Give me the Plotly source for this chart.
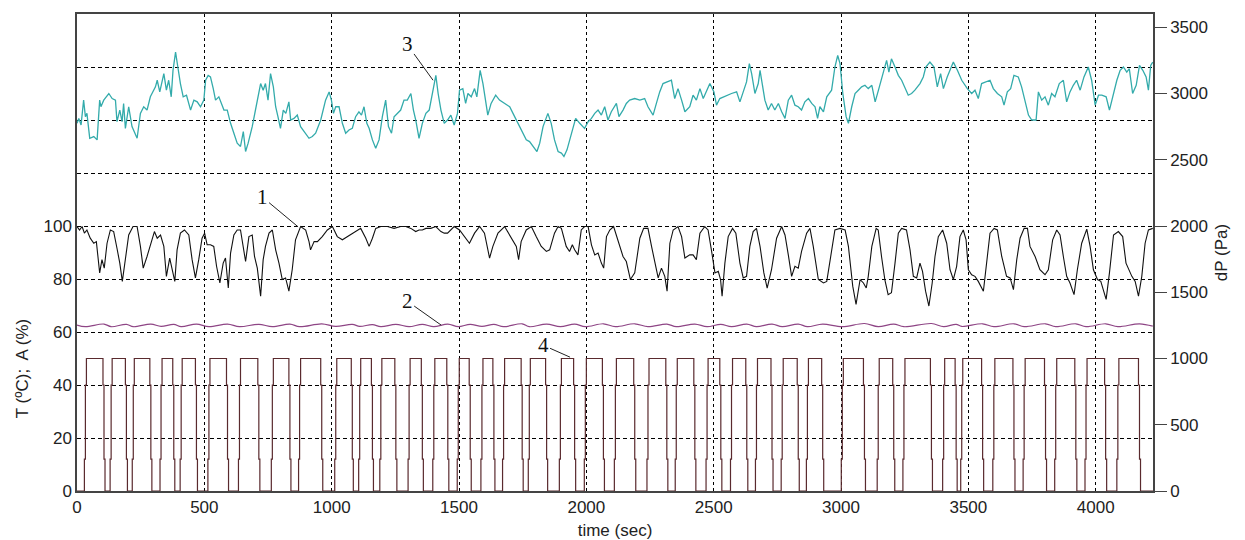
import plotly.graph_objects as go

# ---- series 3 : dP (Pa), right axis ----
dp_t = [0, 7, 16, 26, 33, 39, 50, 66, 79, 89, 94, 105, 125, 138, 151, 157, 168, 177, 183, 190,
        203, 216, 236, 249, 262, 275, 288, 308, 315, 325, 341, 351, 360, 370, 377, 387, 396, 406,
        417, 430, 446, 459, 472, 485, 498, 505, 515, 524, 535, 544, 557, 567, 577, 590, 603, 616,
        629, 642, 653, 662, 672, 688, 701, 714, 721, 731, 740, 750, 760, 771, 780, 789, 799, 810,
        820, 832, 839, 852, 865, 878, 891, 911, 924, 937, 957, 976, 990, 999, 1007, 1016, 1029,
        1042, 1055, 1068, 1081, 1094, 1107, 1117, 1127, 1138, 1147, 1160, 1173, 1186, 1199, 1212,
        1223, 1235, 1245, 1258, 1271, 1284, 1297, 1311, 1321, 1330, 1343, 1356, 1370, 1383, 1396,
        1409, 1418, 1429, 1442, 1455, 1468, 1481, 1494,
        1502, 1515, 1526, 1535, 1548, 1561, 1570, 1583, 1594, 1604, 1613, 1626, 1644, 1659, 1679,
        1699, 1712, 1725, 1738, 1751, 1764, 1777, 1790, 1806, 1817, 1830, 1849, 1862, 1875, 1889,
        1902, 1912, 1924, 1941, 1958, 1974, 1993, 2007, 2020, 2033, 2046, 2059, 2072, 2085, 2098,
        2118, 2128, 2144, 2157, 2170, 2190, 2210, 2229, 2242, 2262, 2275, 2288, 2301, 2321, 2334,
        2347, 2360, 2374, 2387, 2406, 2419, 2432, 2446, 2459, 2472, 2485, 2501, 2511, 2524, 2550,
        2570, 2590, 2603, 2616, 2629, 2640, 2649, 2662, 2675, 2682, 2692, 2701, 2714, 2727, 2740,
        2754, 2767, 2780, 2793, 2806, 2819, 2832, 2845, 2858, 2872, 2885, 2898, 2908, 2917, 2931,
        2944, 2963, 2976, 2987, 2996, 3007, 3020, 3029, 3042, 3055, 3068, 3081, 3094, 3107, 3121,
        3134, 3147,
        3166, 3179, 3188, 3198, 3212, 3225, 3238, 3251, 3264, 3277, 3290, 3310, 3323, 3333, 3349,
        3365, 3378, 3391, 3402, 3417, 3428, 3441, 3457, 3474, 3496, 3513, 3526, 3539, 3552, 3572,
        3585, 3598, 3614, 3631, 3640, 3653, 3666, 3679, 3696, 3709, 3722, 3736, 3749, 3766, 3775,
        3788, 3801, 3814, 3827, 3840, 3857, 3873, 3886, 3899, 3912, 3925, 3939, 3954, 3971, 3984,
        3998, 4011, 4024, 4041, 4054, 4070, 4083, 4096, 4109, 4122, 4132, 4145, 4159, 4172, 4185,
        4198, 4207, 4216, 4224]
dp_v = [2775, 2812, 2762, 2950, 2825, 2850, 2662, 2675, 2650, 2950, 2900, 2950, 3000, 2962, 2950,
        2787, 2875, 2787, 2925, 2737, 2900, 2750, 2662, 2850, 2900, 2875, 2975, 3050, 3100, 3012,
        3150, 3025, 3100, 2975, 3175, 3312, 3200, 3075, 2975, 2987, 2875, 2950, 2937, 2900, 2950,
        3100, 3137, 3125, 3037, 2950, 2975, 2925, 2875, 2875, 2775, 2700, 2625, 2600, 2712, 2562,
        2625, 2750, 2875, 3000, 3075, 3025, 3075, 2950, 3150, 3050, 2900, 2825, 2737, 2875, 2850,
        2937, 2800, 2812, 2837, 2750, 2712, 2662, 2675, 2700, 2800, 2950, 3012, 2950, 2850, 2900,
        2900, 2775, 2700, 2725, 2737, 2825, 2862, 2837, 2900, 2775, 2737, 2650, 2587, 2650, 2825,
        2950, 2750, 2700, 2825, 2850, 2875, 2950, 2950, 3000, 2875, 2800, 2662, 2775, 2850, 2875,
        3000, 3137, 3000, 2875, 2775, 2800, 2837, 2762, 2850,
        3025, 3037, 2925, 3000, 2975, 3037, 2975, 3175, 3075, 2950, 2837, 2925, 2987, 2950, 2925,
        2900, 2850, 2800, 2750, 2700, 2650, 2637, 2600, 2562, 2625, 2750, 2850, 2775, 2650, 2562,
        2550, 2525, 2575, 2700, 2812, 2775, 2737, 2787, 2812, 2850, 2875, 2837, 2900, 2800, 2862,
        2925, 2825, 2875, 2925, 2950, 2962, 2950, 2962, 2900, 2837, 2925, 3012, 3075, 3087, 3100,
        2962, 3037, 2950, 2862, 2900, 2987, 2950, 3037, 2962, 3025, 3075, 3012, 2912, 2962, 2987,
        3000, 3012, 2937, 3012, 3087, 3225, 3150, 3000, 3075, 3175, 3050, 2950, 2875, 2925, 2875,
        2925, 2862, 2812, 2950, 2987, 2912, 2900, 2875, 2937, 2962, 2925, 2900, 2812, 2900, 2862,
        2975, 3025, 3200, 3287, 3225, 3000, 2825, 2775, 2900, 3000, 3025, 3050, 3062, 3037, 3062,
        2937, 3025,
        3150, 3250, 3162, 3262, 3200, 3137, 3100, 3037, 2987, 3000, 3025, 3075, 3125, 3200, 3237,
        3200, 3050, 3150, 3037, 3125, 3175, 3237, 3175, 3100, 3037, 3000, 3025, 2962, 3075, 3087,
        3100, 3037, 3000, 2975, 2912, 3012, 3037, 3137, 3125, 3050, 2950, 2837, 2800, 2800, 3012,
        2950, 2975, 2912, 3000, 2975, 3075, 3100, 2937, 3012, 3062, 3100, 3025, 3125, 3200, 3100,
        2912, 2987, 2987, 2975, 2875, 3000, 3100, 3175, 3200, 3162, 3187, 3000, 3062, 3212, 3175,
        3125, 3025, 3212, 3237]

# ---- series 1 : black, left axis ----
s1_t = [0, 10, 20, 29, 39, 52, 66, 76, 89, 98, 107, 118, 131, 144, 157, 168, 178, 190, 203, 220,
        236, 249, 260, 275, 291, 304, 315, 328, 341, 351, 364, 374, 384, 393, 406, 422, 439, 452,
        465, 478, 491, 501, 511, 524, 537, 548, 561, 574, 583, 594, 603, 616, 629, 642, 653, 662,
        675, 688, 697, 708, 721, 731, 740, 754, 767, 780, 793, 806, 819, 832, 845, 858, 878, 898,
        911, 917, 931, 944, 963, 983, 1003, 1022, 1042, 1062, 1081, 1101, 1114, 1134, 1147, 1160,
        1173, 1193, 1219, 1245, 1271, 1291, 1311, 1330, 1343, 1356, 1370, 1389, 1409, 1429, 1442,
        1455, 1468, 1481,
        1502, 1522, 1541, 1561, 1581, 1600, 1620, 1633, 1653, 1679, 1699, 1712, 1725, 1734, 1744,
        1764, 1784, 1803, 1823, 1843, 1856, 1875, 1889, 1902, 1921, 1934, 1945, 1954, 1967, 1980,
        1993, 2007, 2020, 2033, 2046, 2059, 2068, 2079, 2092, 2107, 2125, 2144, 2157, 2173, 2190,
        2210, 2225, 2242, 2256, 2269, 2282, 2295, 2308, 2317, 2328, 2341, 2360, 2374, 2387, 2406,
        2419, 2432, 2446, 2465, 2478, 2491, 2505, 2518, 2527, 2533, 2544, 2557, 2574, 2587, 2603,
        2616, 2629, 2642, 2655, 2668, 2682, 2697, 2710, 2727, 2747, 2767, 2780, 2793, 2806, 2819,
        2832, 2845, 2865, 2878, 2891, 2911, 2931, 2944, 2957, 2976, 2996, 3016, 3029, 3046, 3059,
        3075, 3088, 3099, 3107, 3121, 3138,
        3146, 3159, 3172, 3185, 3198, 3212, 3225, 3238, 3257, 3271, 3284, 3297, 3310, 3320, 3332,
        3345, 3358, 3369, 3382, 3399, 3415, 3428, 3441, 3454, 3467, 3480, 3491, 3500, 3513, 3526,
        3539, 3559, 3572, 3585, 3601, 3614, 3631, 3650, 3664, 3677, 3690, 3703, 3719, 3732, 3742,
        3762, 3781, 3801, 3814, 3831, 3847, 3860, 3873, 3886, 3899, 3915, 3928, 3945, 3965, 3978,
        3991, 4007, 4020, 4041, 4054, 4070, 4089, 4106, 4119, 4142, 4155, 4168, 4181, 4194, 4207,
        4224]
s1_v = [99.8, 98.5, 99.8, 97.3, 98.5, 95.4, 93.5, 94.1, 82.3, 87.3, 84.1, 93.5, 98.5, 97.9, 91.6,
        86.0, 79.1, 88.5, 96.6, 99.8, 99.8, 92.3, 84.1, 88.5, 93.5, 97.9, 95.4, 96.6, 92.3, 81.0,
        87.9, 83.5, 79.1, 91.0, 97.3, 98.5, 96.6, 87.3, 80.4, 87.3, 95.4, 97.3, 92.9, 92.9, 92.3,
        84.8, 78.5, 86.0, 87.9, 76.6, 89.8, 96.6, 98.5, 98.5, 91.0, 86.6, 96.0, 96.6, 88.5, 84.1,
        73.5, 87.3, 92.3, 97.3, 98.5, 91.0, 86.0, 79.8, 80.4, 75.4, 83.5, 94.8, 99.8, 98.5, 94.1,
        91.0, 94.1, 94.1, 96.0, 98.5, 99.8, 96.0, 94.8, 96.0, 97.3, 98.5, 99.1, 95.4, 92.3, 95.4,
        99.1, 99.8, 99.8, 99.1, 99.8, 99.8, 99.1, 97.9, 98.5, 98.5, 99.1, 99.1, 99.8, 97.9, 97.3,
        97.3, 98.5, 99.8,
        98.5, 96.0, 93.5, 97.3, 99.8, 97.3, 87.9, 92.3, 97.3, 99.8, 96.6, 94.8, 92.3, 87.3, 94.1,
        98.5, 99.8, 96.0, 92.3, 90.4, 91.0, 97.3, 99.8, 99.1, 92.3, 90.4, 92.9, 91.0, 89.1, 98.5,
        99.8, 99.8, 92.9, 89.1, 89.8, 86.0, 84.1, 96.0, 98.5, 99.8, 94.1, 88.5, 86.6, 79.8, 82.3,
        95.4, 99.1, 99.1, 92.3, 86.0, 80.4, 84.1, 81.0, 75.4, 93.5, 98.5, 99.8, 96.0, 87.9, 89.1,
        89.1, 87.3, 97.3, 99.8, 98.5, 91.0, 82.3, 82.9, 79.8, 73.5, 86.0, 96.0, 99.1, 97.3, 86.0,
        80.4, 81.0, 92.3, 97.9, 99.1, 92.3, 82.3, 76.6, 83.5, 95.4, 99.8, 96.6, 89.1, 81.0, 84.8,
        84.1, 90.4, 97.3, 99.1, 92.3, 79.8, 78.5, 79.1, 87.3, 98.5, 99.1, 98.5, 92.3, 77.3, 70.4,
        79.8, 78.5, 76.6, 81.0, 92.3, 99.1,
        98.5, 88.5, 79.8, 74.1, 74.8, 86.0, 97.3, 99.1, 98.5, 91.0, 81.0, 80.4, 86.0, 82.9, 75.4,
        69.8, 78.5, 88.5, 96.0, 98.5, 93.5, 83.5, 79.8, 84.8, 96.0, 98.5, 94.8, 83.5, 81.6, 81.0,
        79.1, 75.4, 86.0, 97.3, 99.1, 98.5, 88.5, 81.0, 80.4, 76.0, 87.3, 95.4, 99.1, 99.1, 92.3,
        88.5, 83.5, 81.6, 83.5, 94.8, 98.5, 96.6, 88.5, 81.0, 78.5, 74.1, 83.5, 93.5, 98.8, 92.3,
        83.5, 79.8, 79.1, 72.3, 82.3, 96.6, 97.9, 96.0, 86.0, 81.0, 79.1, 73.5, 81.0, 93.5, 98.5,
        99.1]

# ---- series 4 : pulses (0 / 50), left axis ----
pulse_on = [33, 134, 221, 330, 409, 518, 638, 767, 874, 1016, 1110, 1193, 1304, 1401, 1497,
            1590, 1675, 1776, 1898, 1996, 2114, 2242, 2353, 2474, 2570, 2668, 2769, 2868, 3005,
            3146, 3247, 3403, 3474, 3600, 3719, 3843, 3962, 4087]
pulse_off = [106, 194, 290, 380, 469, 591, 714, 836, 961, 1081, 1160, 1252, 1356, 1456, 1544,
             1637, 1748, 1844, 1954, 2067, 2190, 2316, 2426, 2528, 2630, 2729, 2832, 2928, 3092,
             3207, 3355, 3452, 3556, 3679, 3803, 3922, 4039, 4172]
pulse_high = 50

# ---- series 2 : purple, left axis ----
s2_t = [0, 33, 106, 134, 194, 221, 290, 330, 380, 409, 469, 518, 591, 638, 714, 767, 836, 874,
        961, 1016, 1081, 1110, 1160, 1193, 1252, 1304, 1356, 1401, 1456, 1497, 1544, 1590, 1637,
        1675, 1748, 1776, 1844, 1898, 1954, 1996, 2067, 2114, 2190, 2242, 2316, 2353, 2426, 2474,
        2528, 2570, 2630, 2668, 2729, 2769, 2832, 2868, 2928, 3005, 3092, 3146, 3207, 3247, 3355,
        3403, 3452, 3474, 3556, 3600, 3679, 3719, 3803, 3843, 3922, 3962, 4039, 4087, 4172, 4224]
s2_v = [62.6, 62.0, 63.0, 62.0, 62.9, 62.0, 63.0, 62.1, 62.9, 62.0, 63.0, 62.0, 63.0, 62.0, 62.9,
        62.0, 63.0, 62.0, 63.1, 62.1, 62.9, 62.1, 62.8, 62.0, 62.9, 62.0, 62.9, 62.0, 63.0, 62.0,
        62.9, 62.1, 62.9, 62.0, 63.1, 62.0, 63.0, 62.0, 63.0, 62.0, 63.1, 62.0, 63.1, 62.0, 63.0,
        62.0, 63.0, 62.0, 62.9, 62.0, 63.0, 62.0, 63.0, 62.0, 63.0, 62.0, 63.0, 62.0, 63.2, 62.0,
        63.0, 62.0, 63.2, 62.0, 62.9, 62.1, 63.1, 62.0, 63.1, 62.0, 63.1, 62.0, 63.1, 62.0, 63.1,
        62.0, 63.1, 62.2]

x_ticks = [0, 500, 1000, 1500, 2000, 2500, 3000, 3500, 4000]
left_grid = [0, 20, 40, 60, 80, 100, 120, 140, 160]
left_labels = ["0", "20", "40", "60", "80", "100", "", "", ""]
right_ticks = [0, 500, 1000, 1500, 2000, 2500, 3000, 3500]

# build pulse polyline from on/off times (slightly stepped edges as in the original)
px, py = [0], [0]
d = 4
for on, off in zip(pulse_on, pulse_off):
    px += [on - d, on - d, on, on, on + d, on + d, off - d, off - d, off, off, off + d, off + d]
    py += [0, 12, 12, 40, 40, pulse_high, pulse_high, 40, 40, 12, 12, 0]
px.append(4225)
py.append(0)

fig = go.Figure()
fig.add_trace(go.Scatter(x=px, y=py, mode="lines", line=dict(color="#5a2a2e", width=1.2),
                         yaxis="y", showlegend=False))
fig.add_trace(go.Scatter(x=s2_t, y=s2_v, mode="lines", line=dict(color="#8e4585", width=1.2, shape="spline"),
                         yaxis="y", showlegend=False))
fig.add_trace(go.Scatter(x=s1_t, y=s1_v, mode="lines", line=dict(color="#111111", width=1.1),
                         yaxis="y", showlegend=False))
fig.add_trace(go.Scatter(x=dp_t, y=dp_v, mode="lines", line=dict(color="#33abab", width=1.3),
                         yaxis="y2", showlegend=False))

tickfont = dict(family="Arial, Liberation Sans, sans-serif", size=17, color="#222222")
titlefont = dict(family="Arial, Liberation Sans, sans-serif", size=17, color="#222222")
ann_font = dict(family="Liberation Serif, Times New Roman, serif", size=21, color="#111111")

annotations = [
    dict(x=868, y=99.7, xref="x", yref="y", text="1", showarrow=True, arrowhead=0, arrowwidth=1,
         arrowcolor="#222", ax=-36, ay=-30, font=ann_font),
    dict(x=1430, y=62.6, xref="x", yref="y", text="2", showarrow=True, arrowhead=0, arrowwidth=1,
         arrowcolor="#222", ax=-34, ay=-24, font=ann_font),
    dict(x=1398, y=3100, xref="x", yref="y2", text="3", showarrow=True, arrowhead=0, arrowwidth=1,
         arrowcolor="#222", ax=-26, ay=-36, font=ann_font),
    dict(x=1936, y=50.5, xref="x", yref="y", text="4", showarrow=True, arrowhead=0, arrowwidth=1,
         arrowcolor="#222", ax=-27, ay=-12, font=ann_font),
    dict(x=-0.051, y=46, xref="paper", yref="y", text="T (ºC);  A (%)", showarrow=False,
         textangle=-90, xanchor="center", yanchor="middle", font=titlefont),
]

# the page body adds an 8 px offset; margins compensate so the plot area sits where it should
fig.update_layout(
    width=1237, height=532,
    margin=dict(l=69, r=92, t=6, b=49, autoexpand=False),
    paper_bgcolor="white", plot_bgcolor="white",
    xaxis=dict(range=[0, 4225], tickvals=x_ticks, showgrid=True, gridcolor="#000",
               griddash="3px,3px", gridwidth=1.2, showline=True, linecolor="#444", linewidth=1.5,
               mirror=True, ticks="", zeroline=False, tickfont=tickfont, automargin=False,
               title=dict(text="time (sec)", font=titlefont, standoff=9)),
    yaxis=dict(range=[0, 180], tickvals=left_grid, ticktext=left_labels, showgrid=True,
               gridcolor="#000", griddash="4px,3px", gridwidth=1.2, showline=True,
               linecolor="#444", linewidth=1.5, mirror=True, ticks="", zeroline=False,
               tickfont=tickfont, automargin=False),
    yaxis2=dict(range=[0, 3600], tickvals=right_ticks, overlaying="y", side="right",
                showgrid=False, zeroline=False, showline=True, linecolor="#444", linewidth=1.5,
                ticks="outside", ticklen=12, tickcolor="#444", tickfont=tickfont, automargin=False,
                title=dict(text="dP (Pa)", font=titlefont, standoff=8)),
    annotations=annotations,
)

fig.write_html("out.html")
